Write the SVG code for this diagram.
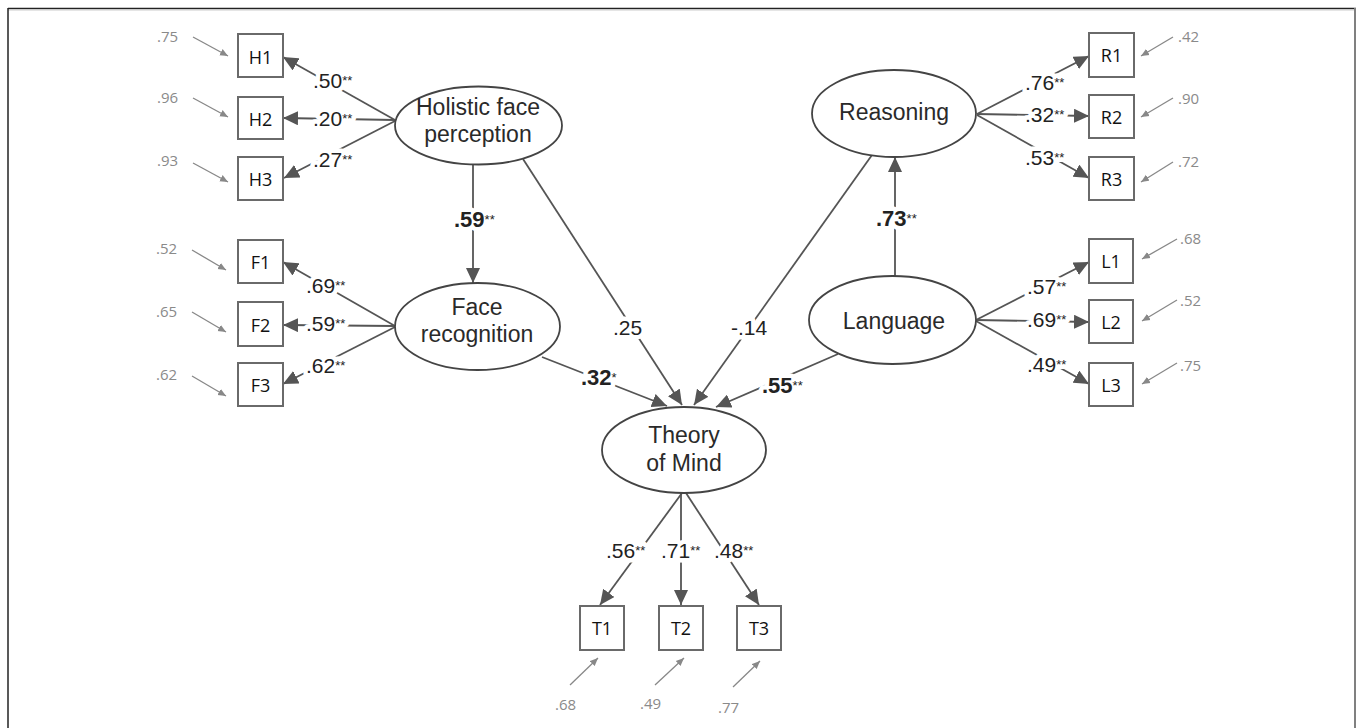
<svg xmlns="http://www.w3.org/2000/svg" xmlns:xlink="http://www.w3.org/1999/xlink" width="1360" height="728" viewBox="0 0 1360 728">
<style>
.lat{fill:#fff;stroke:#444;stroke-width:1.8}
.box{fill:#fff;stroke:#6a6a6a;stroke-width:2}
.lt{font-family:"Liberation Sans",Arial,sans-serif;font-size:23px;fill:#2a2a2a;text-anchor:middle}
.bt{font-family:"Open Sans","Liberation Sans",sans-serif;font-size:18px;fill:#111;text-anchor:middle}
.lna{stroke:#555;stroke-width:1.8;fill:none;marker-end:url(#ah)}
.res{stroke:#888;stroke-width:1.3;fill:none;marker-end:url(#rh)}
.rl{font-family:"Open Sans","Liberation Sans",sans-serif;font-size:15px;fill:#8a8a8a}
.lb{font-family:"Liberation Sans",Arial,sans-serif;font-size:21px}
.bb{font-weight:bold;font-size:22px}
.st{font-size:13px;font-weight:normal}
</style>
<defs>
<marker id="ah" markerUnits="userSpaceOnUse" markerWidth="16" markerHeight="14" refX="15" refY="7" orient="auto">
<path d="M0,0 L15,7 L0,14 z" fill="#555"/>
</marker>
<marker id="rh" markerUnits="userSpaceOnUse" markerWidth="9" markerHeight="8" refX="8" refY="4" orient="auto">
<path d="M0,0.5 L8,4 L0,7.5 z" fill="#888"/>
</marker>
<g id="lbls">
<text class="lb" x="313" y="88">.50<tspan class="st" dy="-3">**</tspan></text>
<text class="lb" x="313" y="126">.20<tspan class="st" dy="-3">**</tspan></text>
<text class="lb" x="313" y="167">.27<tspan class="st" dy="-3">**</tspan></text>
<text class="lb" x="306" y="293">.69<tspan class="st" dy="-3">**</tspan></text>
<text class="lb" x="306" y="331">.59<tspan class="st" dy="-3">**</tspan></text>
<text class="lb" x="306" y="373">.62<tspan class="st" dy="-3">**</tspan></text>
<text class="lb" x="1025" y="90">.76<tspan class="st" dy="-3">**</tspan></text>
<text class="lb" x="1025" y="122">.32<tspan class="st" dy="-3">**</tspan></text>
<text class="lb" x="1025" y="165">.53<tspan class="st" dy="-3">**</tspan></text>
<text class="lb" x="1027" y="294">.57<tspan class="st" dy="-3">**</tspan></text>
<text class="lb" x="1027" y="327">.69<tspan class="st" dy="-3">**</tspan></text>
<text class="lb" x="1027" y="372">.49<tspan class="st" dy="-3">**</tspan></text>
<text class="lb" x="606" y="558">.56<tspan class="st" dy="-3">**</tspan></text>
<text class="lb" x="661" y="558">.71<tspan class="st" dy="-3">**</tspan></text>
<text class="lb" x="714" y="558">.48<tspan class="st" dy="-3">**</tspan></text>
<text class="lb bb" x="454" y="227">.59<tspan class="st" dy="-3">**</tspan></text>
<text class="lb bb" x="876" y="226">.73<tspan class="st" dy="-3">**</tspan></text>
<text class="lb bb" x="581" y="385">.32<tspan class="st" dy="-3">*</tspan></text>
<text class="lb bb" x="762" y="393">.55<tspan class="st" dy="-3">**</tspan></text>
<text class="lb" x="613" y="335">.25</text>
<text class="lb" x="731" y="335">-.14</text>
</g>
</defs>
<rect width="1360" height="728" fill="#fff"/>
<g id="frame">
<line x1="8" y1="8.5" x2="1356" y2="8.5" stroke="#222" stroke-width="1.5"/>
<line x1="8" y1="10" x2="1356" y2="10" stroke="#ccc" stroke-width="1"/>
<line x1="8" y1="8" x2="8" y2="728" stroke="#222" stroke-width="1.5"/>
<line x1="1355" y1="8" x2="1355" y2="728" stroke="#808080" stroke-width="2"/>
</g>
<g id="connectors">
<line class="lna" x1="395" y1="120" x2="283" y2="57"/>
<line class="lna" x1="395" y1="120" x2="283" y2="118"/>
<line class="lna" x1="395" y1="121" x2="284" y2="178"/>
<line class="lna" x1="395" y1="326" x2="283" y2="262"/>
<line class="lna" x1="395" y1="326" x2="283" y2="325"/>
<line class="lna" x1="395" y1="327" x2="283" y2="384"/>
<line class="lna" x1="977" y1="114" x2="1089" y2="56"/>
<line class="lna" x1="977" y1="114" x2="1089" y2="116"/>
<line class="lna" x1="977" y1="115" x2="1089" y2="178"/>
<line class="lna" x1="976" y1="320" x2="1089" y2="262"/>
<line class="lna" x1="976" y1="320" x2="1089" y2="322"/>
<line class="lna" x1="976" y1="321" x2="1089" y2="384"/>
<line class="lna" x1="682" y1="493" x2="600" y2="605"/>
<line class="lna" x1="681" y1="493" x2="681" y2="605"/>
<line class="lna" x1="686" y1="493" x2="759" y2="605"/>
<line class="lna" x1="473" y1="164" x2="473" y2="283"/>
<line class="lna" x1="895" y1="276" x2="895" y2="157"/>
<line class="lna" x1="523" y1="159" x2="682" y2="405"/>
<line class="lna" x1="872" y1="155" x2="694" y2="405"/>
<line class="lna" x1="542" y1="357" x2="667" y2="406"/>
<line class="lna" x1="838" y1="354" x2="716" y2="407"/>
<line class="res" x1="193" y1="37" x2="228" y2="56"/>
<line class="res" x1="193" y1="98" x2="228" y2="117"/>
<line class="res" x1="193" y1="163" x2="228" y2="182"/>
<line class="res" x1="192" y1="250" x2="226" y2="270"/>
<line class="res" x1="192" y1="312" x2="226" y2="332"/>
<line class="res" x1="192" y1="376" x2="226" y2="396"/>
<line class="res" x1="1173" y1="37" x2="1141" y2="56"/>
<line class="res" x1="1173" y1="98" x2="1141" y2="117"/>
<line class="res" x1="1173" y1="162" x2="1141" y2="182"/>
<line class="res" x1="1177" y1="239" x2="1142" y2="259"/>
<line class="res" x1="1177" y1="300" x2="1142" y2="321"/>
<line class="res" x1="1177" y1="363" x2="1142" y2="384"/>
<line class="res" x1="570" y1="685" x2="598" y2="658"/>
<line class="res" x1="655" y1="685" x2="684" y2="658"/>
<line class="res" x1="733" y1="687" x2="760" y2="661"/>
</g>
<g id="labels">
<use xlink:href="#lbls" href="#lbls" fill="#fff" stroke="#fff" stroke-width="9" stroke-linejoin="round"/>
<use xlink:href="#lbls" href="#lbls" fill="#222"/>
</g>
<g id="residual-labels">
<text class="rl" x="157" y="42">.75</text>
<text class="rl" x="157" y="103">.96</text>
<text class="rl" x="157" y="166">.93</text>
<text class="rl" x="156" y="254">.52</text>
<text class="rl" x="156" y="317">.65</text>
<text class="rl" x="156" y="380">.62</text>
<text class="rl" x="1178" y="42">.42</text>
<text class="rl" x="1178" y="104">.90</text>
<text class="rl" x="1178" y="167">.72</text>
<text class="rl" x="1180" y="244">.68</text>
<text class="rl" x="1180" y="306">.52</text>
<text class="rl" x="1180" y="371">.75</text>
<text class="rl" x="555" y="710">.68</text>
<text class="rl" x="640" y="709">.49</text>
<text class="rl" x="718" y="713">.77</text>
</g>
<g id="holistic"><ellipse class="lat" cx="478.5" cy="125.5" rx="83.5" ry="39"/><text class="lt" x="478" y="115">Holistic face</text><text class="lt" x="478" y="142">perception</text></g>
<g id="face"><ellipse class="lat" cx="477.5" cy="326.5" rx="82.5" ry="43.5"/><text class="lt" x="477" y="315">Face</text><text class="lt" x="477" y="342">recognition</text></g>
<g id="reasoning"><ellipse class="lat" cx="894" cy="113.5" rx="82" ry="43.5"/><text class="lt" x="894" y="120">Reasoning</text></g>
<g id="language"><ellipse class="lat" cx="892.5" cy="320" rx="83.5" ry="44"/><text class="lt" x="894" y="329">Language</text></g>
<g id="tom"><ellipse class="lat" cx="684" cy="450" rx="82" ry="43"/><text class="lt" x="684" y="443">Theory</text><text class="lt" x="684" y="471">of Mind</text></g>
<g id="H1"><rect class="box" x="238" y="34" width="45" height="43"/><text class="bt" x="260.5" y="64">H1</text></g>
<g id="H2"><rect class="box" x="238" y="97" width="45" height="42"/><text class="bt" x="260.5" y="126">H2</text></g>
<g id="H3"><rect class="box" x="238" y="157" width="45" height="43"/><text class="bt" x="260.5" y="186">H3</text></g>
<g id="F1"><rect class="box" x="238" y="240" width="45" height="43"/><text class="bt" x="260.5" y="269">F1</text></g>
<g id="F2"><rect class="box" x="238" y="302" width="45" height="44"/><text class="bt" x="260.5" y="332">F2</text></g>
<g id="F3"><rect class="box" x="238" y="363" width="45" height="43"/><text class="bt" x="260.5" y="392">F3</text></g>
<g id="R1"><rect class="box" x="1089" y="33" width="45" height="44"/><text class="bt" x="1111.5" y="62">R1</text></g>
<g id="R2"><rect class="box" x="1089" y="95" width="45" height="43"/><text class="bt" x="1111.5" y="124">R2</text></g>
<g id="R3"><rect class="box" x="1089" y="157" width="45" height="43"/><text class="bt" x="1111.5" y="186">R3</text></g>
<g id="L1"><rect class="box" x="1089" y="239" width="44" height="44"/><text class="bt" x="1111" y="268">L1</text></g>
<g id="L2"><rect class="box" x="1089" y="300" width="44" height="43"/><text class="bt" x="1111" y="329">L2</text></g>
<g id="L3"><rect class="box" x="1089" y="363" width="44" height="43"/><text class="bt" x="1111" y="392">L3</text></g>
<g id="T1"><rect class="box" x="580" y="606" width="44" height="44"/><text class="bt" x="602" y="635">T1</text></g>
<g id="T2"><rect class="box" x="659" y="606" width="44" height="44"/><text class="bt" x="681" y="635">T2</text></g>
<g id="T3"><rect class="box" x="737" y="606" width="44" height="44"/><text class="bt" x="759" y="635">T3</text></g>
</svg>
